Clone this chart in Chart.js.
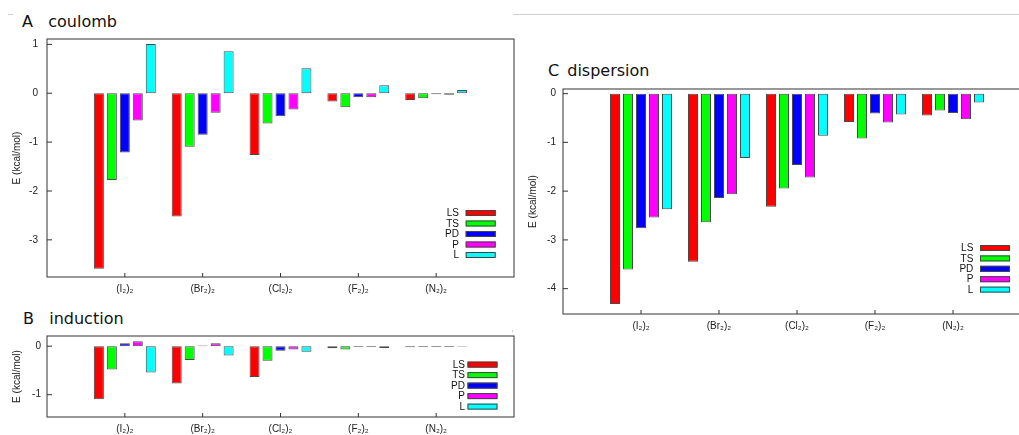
<!DOCTYPE html>
<html><head><meta charset="utf-8">
<script src="https://cdn.jsdelivr.net/npm/chart.js@4.4.1/dist/chart.umd.min.js"></script>
<style>
html,body{margin:0;padding:0;background:#fff;}
body{position:relative;width:1019px;height:435px;overflow:hidden;}
.box{position:absolute;}
.ttl{position:absolute;font-family:"DejaVu Sans";font-size:16px;line-height:16px;color:#111;white-space:pre;}
.gl{position:absolute;background:#cfcfcf;height:1px;}
</style></head><body>
<div class="gl" style="left:513px;top:14px;width:506px;"></div>
<div class="gl" style="left:8px;top:14px;width:5px;"></div>
<div class="gl" style="left:512px;top:330px;width:1px;height:2px;"></div>
<div class="ttl" style="left:22px;top:13.7px">A   coulomb</div>
<div class="ttl" style="left:23px;top:310.5px">B   induction</div>
<div class="ttl" style="left:548px;top:63px;word-spacing:3px">C dispersion</div>
<div class="box" style="left:0;top:0;"><canvas id="cA" width="520" height="300"></canvas></div>
<div class="box" style="left:0;top:300px;"><canvas id="cB" width="520" height="135"></canvas></div>
<div class="box" style="left:516px;top:50px;"><canvas id="cC" width="521" height="290"></canvas></div>
<script>
const categories = ['(I\u2082)\u2082','(Br\u2082)\u2082','(Cl\u2082)\u2082','(F\u2082)\u2082','(N\u2082)\u2082'];
const seriesNames = ['LS','TS','PD','P','L'];
const seriesColors = ['#ff0000','#00ff00','#0000ff','#ff00ff','#00ffff'];

const coulombLS = [-3.59, -2.52, -1.265, -0.17, -0.137];
const coulombTS = [-1.776, -1.096, -0.62, -0.286, -0.10];
const coulombPD = [-1.21, -0.85, -0.47, -0.08, -0.02];
const coulombP  = [-0.56, -0.40, -0.335, -0.08, -0.03];
const coulombL  = [1.01, 0.857, 0.51, 0.163, 0.067];

const inductionLS = [-1.095, -0.77, -0.633, -0.04, -0.02];
const inductionTS = [-0.483, -0.286, -0.30, -0.07, -0.015];
const inductionPD = [0.06, 0.015, -0.095, -0.015, -0.015];
const inductionP  = [0.10, 0.06, -0.067, -0.015, -0.015];
const inductionL  = [-0.545, -0.19, -0.115, -0.035, -0.01];

const dispersionLS = [-4.315, -3.45, -2.32, -0.58, -0.45];
const dispersionTS = [-3.607, -2.64, -1.945, -0.92, -0.348];
const dispersionPD = [-2.76, -2.14, -1.466, -0.41, -0.396];
const dispersionP  = [-2.54, -2.065, -1.72, -0.593, -0.525];
const dispersionL  = [-2.37, -1.32, -0.866, -0.43, -0.184];

const yTicksA = [-3, -2, -1, 0, 1];
const yTicksB = [-1, 0];
const yTicksC = [-4, -3, -2, -1, 0];
const yTitle = 'E (kcal/mol)';

Chart.defaults.font.family = 'Liberation Sans';
Chart.defaults.font.size = 10;
Chart.defaults.color = '#222';

const framePlugin = {
  id: 'frame',
  afterDatasetsDraw(chart, args, opts) {
    const ctx = chart.ctx;
    const {left, top, right, bottom} = chart.chartArea;
    ctx.save();
    ctx.strokeStyle = '#333';
    ctx.lineWidth = 1;
    ctx.strokeRect(left, top, right - left, bottom - top);
    const ys = chart.scales.y;
    ys.ticks.forEach(t => {
      const py = ys.getPixelForValue(t.value);
      ctx.beginPath(); ctx.moveTo(left, py); ctx.lineTo(left + 5, py); ctx.stroke();
    });
    const xs = chart.scales.x;
    xs.ticks.forEach((t, i) => {
      if (!chart.data.labels[t.value]) return;
      const px = xs.getPixelForTick(i);
      ctx.beginPath(); ctx.moveTo(px, bottom); ctx.lineTo(px, bottom - 4); ctx.stroke();
    });
    const L = opts.legend;
    ctx.font = '10px "Liberation Sans"';
    ctx.textAlign = 'right';
    ctx.textBaseline = 'middle';
    chart.data.datasets.forEach((ds, i) => {
      const cy = bottom + L.firstY + i * L.step;
      ctx.fillStyle = '#111';
      ctx.fillText(ds.label, right + L.textRight, cy + 0.5);
      ctx.fillStyle = ds.backgroundColor;
      ctx.fillRect(right + L.swLeft, cy - 3, L.swW, 6);
      ctx.strokeStyle = '#444';
      ctx.strokeRect(right + L.swLeft + 0.5, cy - 2.5, L.swW - 1, 5);
    });
    ctx.restore();
  }
};

function makeChart(id, series, ymin, ymax, yticks, pad, xH, tickPad, legend) {
  const labels = [''].concat(categories, ['']);
  const datasets = series.map((arr, i) => ({
    label: seriesNames[i],
    data: [null].concat(arr, [null]),
    backgroundColor: seriesColors[i],
    borderColor: '#4a4a4a',
    borderWidth: 1,
    borderSkipped: false,
    categoryPercentage: 65 / 78,
    barPercentage: 0.77
  }));
  return new Chart(document.getElementById(id), {
    type: 'bar',
    data: {labels, datasets},
    plugins: [framePlugin],
    options: {
      responsive: false,
      animation: false,
      events: [],
      layout: {padding: pad},
      plugins: {legend: {display: false}, tooltip: {enabled: false}, frame: {legend}},
      scales: {
        x: {
          type: 'category', offset: false,
          grid: {display: false, drawTicks: false}, border: {display: false},
          ticks: {autoSkip: false, maxRotation: 0, minRotation: 0, padding: 6, color: '#222'},
          afterFit: s => { s.height = xH; }
        },
        y: {
          min: ymin, max: ymax,
          grid: {display: false, drawTicks: false}, border: {display: false},
          ticks: {padding: tickPad, includeBounds: false, color: '#222'},
          afterBuildTicks: s => { s.ticks = yticks.map(v => ({value: v})); },
          afterFit: s => { s.width = 47; },
          title: {display: true, text: yTitle, color: '#222', font: {size: 10}, padding: {top: 11, bottom: 0}}
        }
      }
    }
  });
}

makeChart('cA', [coulombLS, coulombTS, coulombPD, coulombP, coulombL], -3.76, 1.11, yTicksA,
  {left: 0, top: 39, right: 6, bottom: 0}, 23, 9,
  {textRight: -55, swLeft: -48.3, swW: 30, firstY: -64, step: 10.5});
makeChart('cB', [inductionLS, inductionTS, inductionPD, inductionP, inductionL], -1.46, 0.21, yTicksB,
  {left: 0, top: 36, right: 6, bottom: 0}, 18, 6,
  {textRight: -49, swLeft: -46.5, swW: 30, firstY: -52.4, step: 10.5});
makeChart('cC', [dispersionLS, dispersionTS, dispersionPD, dispersionP, dispersionL], -4.52, 0.095, yTicksC,
  {left: 0, top: 39, right: 6, bottom: 0}, 26, 7,
  {textRight: -57.7, swLeft: -51, swW: 30, firstY: -66, step: 10.4});
</script>
</body></html>
